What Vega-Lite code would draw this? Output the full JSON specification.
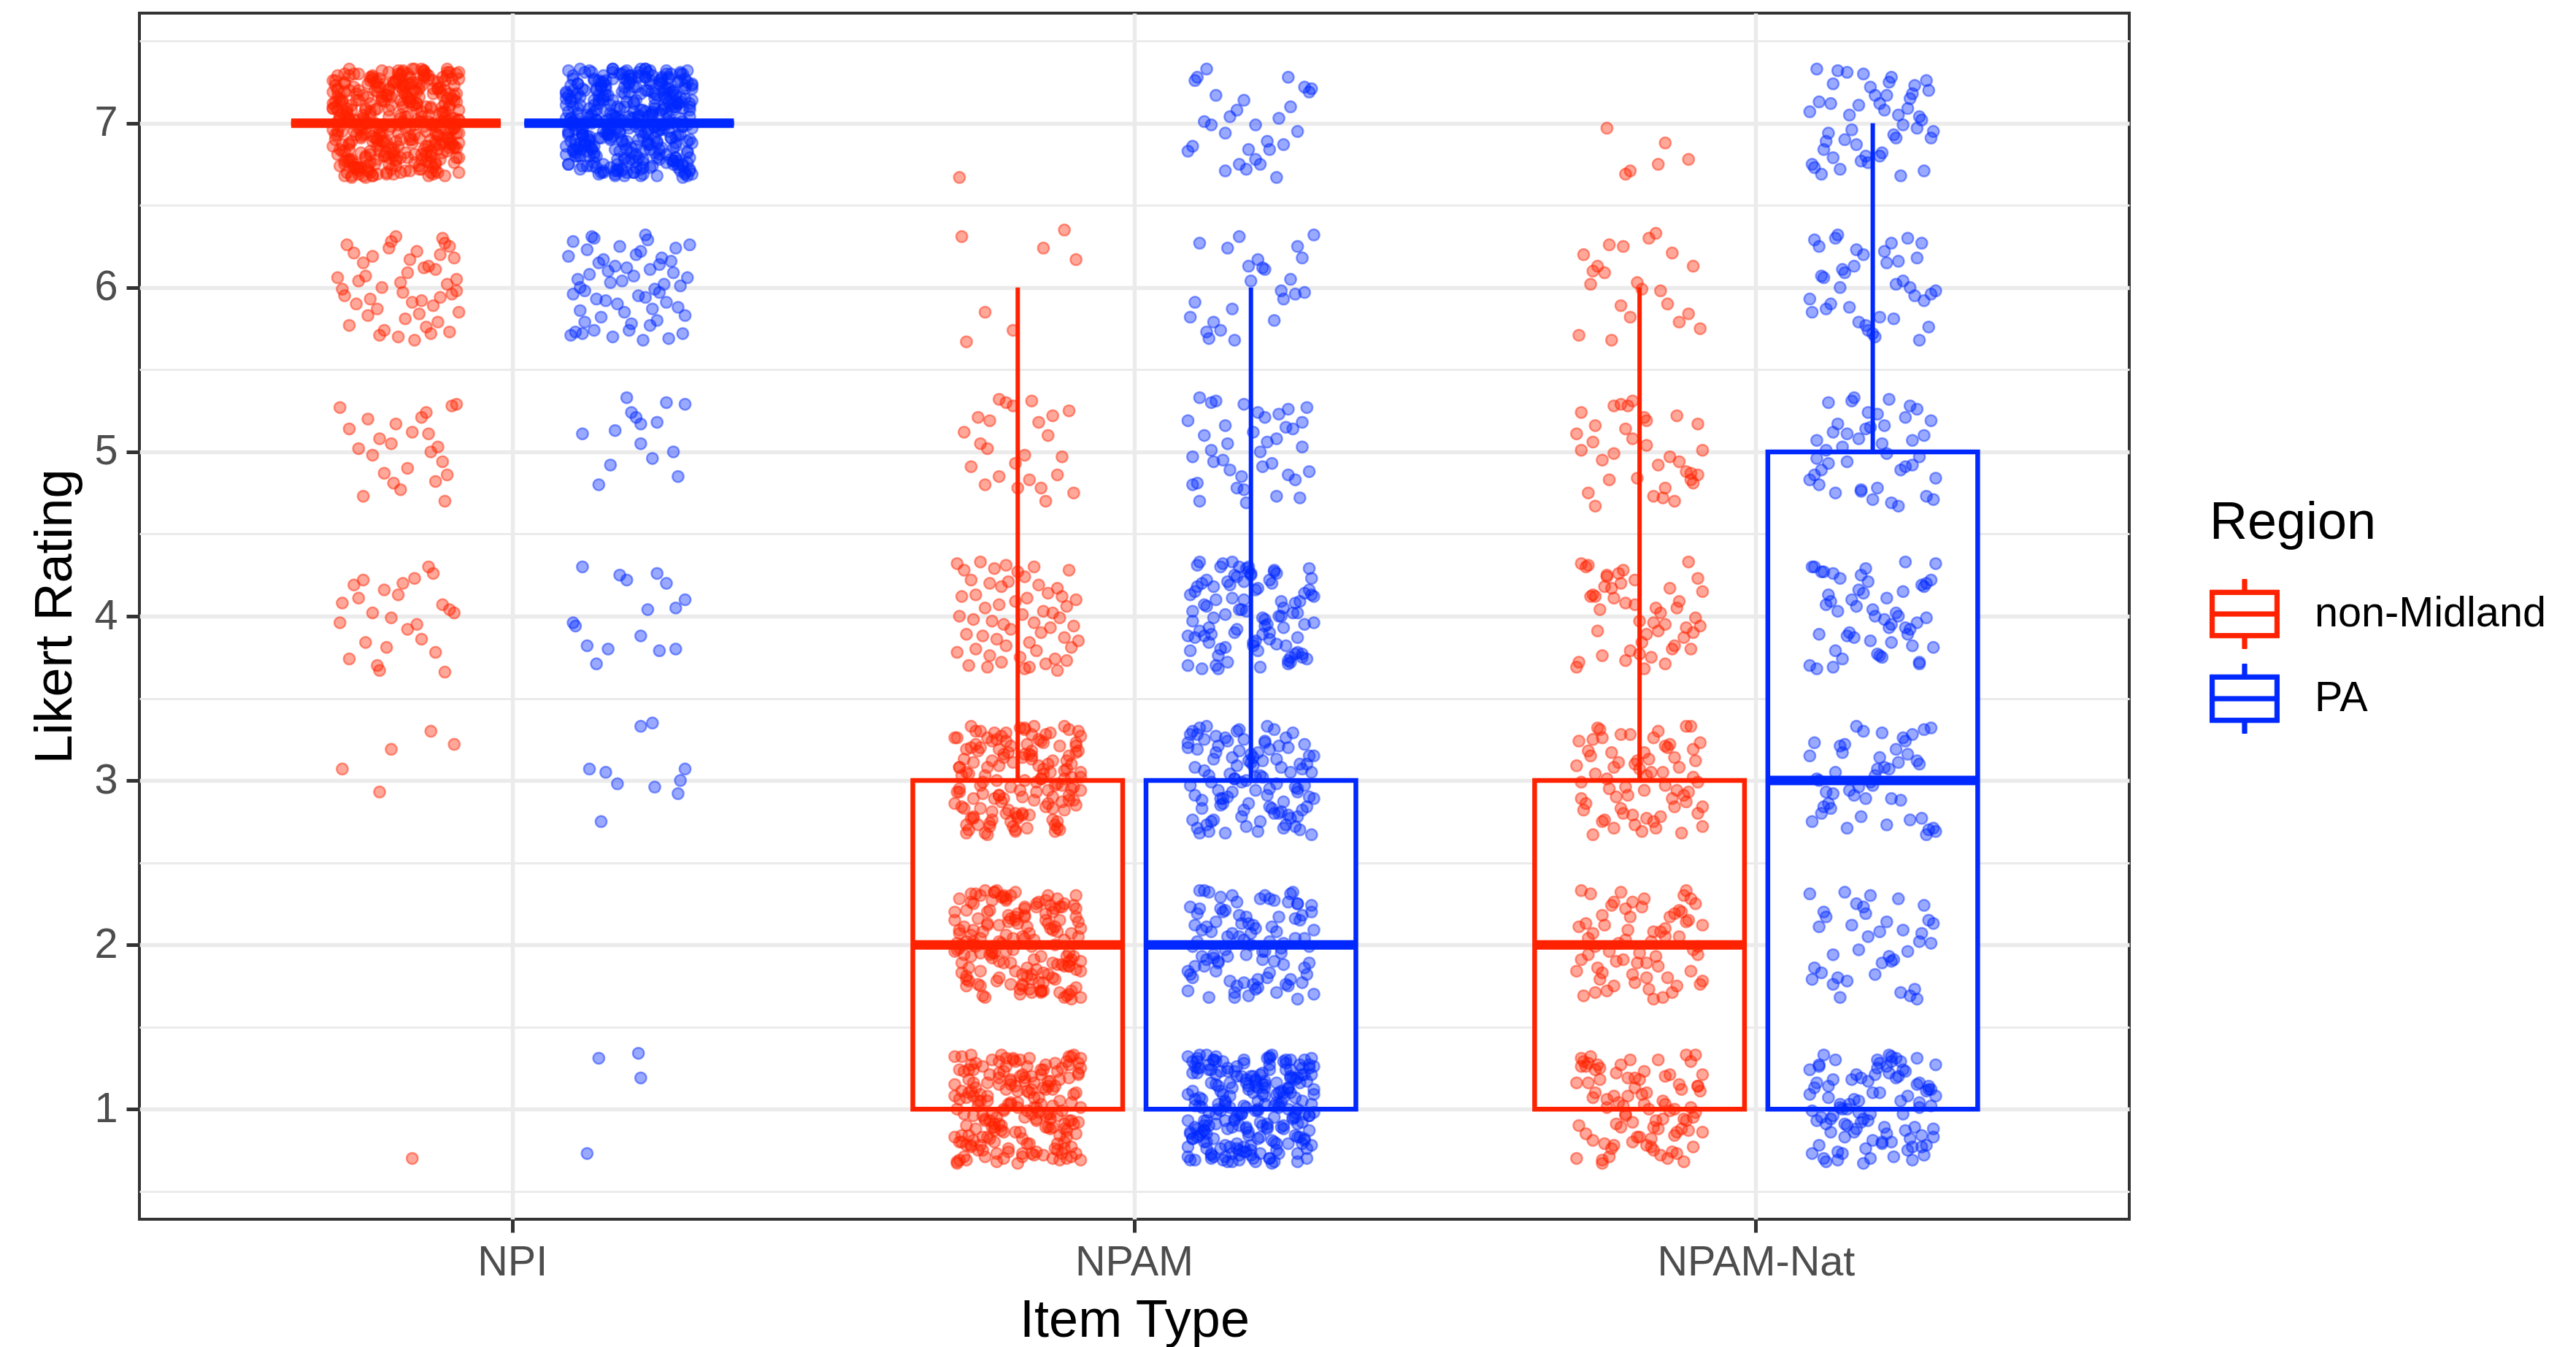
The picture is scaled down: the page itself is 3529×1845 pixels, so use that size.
{
  "$schema": "https://vega.github.io/schema/vega-lite/v6.json",
  "width": 2726,
  "height": 1652,
  "autosize": {"type": "none"},
  "padding": {"left": 191, "top": 18, "right": 612, "bottom": 175},
  "background": "white",
  "datasets": {
    "boxes": [
      {"item": "NPI", "region": "non-Midland", "lo": 7, "q1": 7, "med": 7, "q3": 7, "hi": 7},
      {"item": "NPI", "region": "PA", "lo": 7, "q1": 7, "med": 7, "q3": 7, "hi": 7},
      {"item": "NPAM", "region": "non-Midland", "lo": 1, "q1": 1, "med": 2, "q3": 3, "hi": 6},
      {"item": "NPAM", "region": "PA", "lo": 1, "q1": 1, "med": 2, "q3": 3, "hi": 6},
      {"item": "NPAM-Nat", "region": "non-Midland", "lo": 1, "q1": 1, "med": 2, "q3": 3, "hi": 6},
      {"item": "NPAM-Nat", "region": "PA", "lo": 1, "q1": 1, "med": 3, "q3": 5, "hi": 7}
    ],
    "points": [
      {"item": "NPI", "region": "non-Midland", "rating": 7, "p": [[-61,7.12],[-34,6.73],[-72,7.05],[-47,7.31],[-28,6.91],[-55,6.80],[-40,7.24],[-66,6.97],[-25,7.17],[-51,6.69],[-75,7.08],[-37,6.86],[-44,7.28],[-69,6.78],[-30,7.01],[-58,7.19],[-23,6.94],[-63,6.67],[-48,7.14],[-35,6.83],[-77,7.26],[-42,6.99],[-53,6.75],[-27,7.10],[-70,7.33],[-60,6.89],[-32,7.21],[-46,6.71],[-74,7.03],[-38,6.84],[-56,7.16],[-24,7.30],[-65,6.92],[-50,6.77],[-29,7.07],[-68,7.22],[-43,6.88],[-59,7.00],[-36,7.29],[-71,6.70],[-26,6.96],[-52,7.11],[-45,6.79],[-67,7.18],[-31,6.87],[-57,7.27],[-76,6.93],[-39,7.04],[-62,6.74],[-49,7.32],[-33,6.98],[-73,7.13],[-54,6.82],[-41,7.25],[-64,6.68],[-27,7.02],[-48,6.90],[-70,7.20],[-35,6.76],[-58,7.09],[-44,7.15],[-25,6.85],[-66,7.30],[-52,6.72],[-30,7.06],[-75,6.95],[-39,7.23],[-61,6.81],[-47,7.00],[-23,7.27],[-69,6.89],[-56,7.14],[-34,6.69],[-72,7.19],[-42,6.93],[-28,7.31],[-64,7.03],[-50,6.78],[-37,7.10],[-77,6.86],[-55,7.24],[-31,6.97],[-67,6.73],[-45,7.16],[-26,6.88],[-60,7.29],[-40,7.01],[-73,6.83],[-53,7.21],[-32,6.70],[-63,7.08],[-49,6.94],[-24,7.18],[-70,6.77],[-43,7.33],[-58,6.91],[-36,7.05],[-76,7.26],[-51,6.80],[-29,7.12],[-65,6.99],[-46,7.22],[-33,6.75],[-71,7.04],[-57,6.87],[-38,7.28],[-62,6.72],[-27,6.95],[-54,7.17],[-74,6.84],[-41,7.09],[-68,7.30],[-48,6.79],[-23,7.02],[-59,7.25],[-35,6.90],[-72,6.68],[-44,7.13],[-30,6.82],[-66,7.20],[-53,6.96],[-25,7.23],[-61,6.76],[-39,7.07],[-75,6.93],[-47,7.32],[-33,6.71],[-69,7.11],[-56,6.89],[-28,7.15],[-64,7.01],[-42,6.81],[-77,7.19],[-50,6.74],[-36,7.27],[-60,6.92],[-24,6.85],[-71,7.06],[-45,7.24],[-31,6.78],[-67,7.14],[-52,6.98],[-38,7.31],[-73,6.87],[-26,7.03],[-58,6.69],[-43,7.18],[-63,6.94],[-29,7.26],[-55,6.80],[-76,7.10],[-40,6.91],[-48,7.22],[-65,6.73],[-34,7.00],[-70,7.29],[-57,6.83],[-23,7.08],[-46,6.97],[-62,7.16],[-37,6.77],[-74,7.05],[-51,7.25],[-27,6.88],[-68,6.95],[-41,7.12],[-54,6.70],[-32,7.21],[-66,7.02],[-49,6.86],[-72,7.30],[-35,6.99],[-59,6.75],[-25,7.14],[-44,6.90],[-61,7.07],[-30,7.28],[-75,6.81],[-53,7.04],[-39,6.72],[-64,7.17],[-28,6.96],[-47,7.23],[-70,6.84],[-36,7.01],[-56,7.32],[-23,6.79],[-67,6.93],[-43,7.11],[-60,6.68],[-31,7.19],[-73,7.06],[-50,6.89],[-26,7.27],[-58,6.97],[-40,6.74],[-77,7.09],[-45,7.15],[-33,6.87],[-62,7.24],[-52,6.82],[-69,7.00],[-38,7.29],[-24,6.94],[-55,7.13],[-71,6.77],[-42,7.20],[-29,7.03],[-65,6.91],[-48,6.70],[-34,7.26],[-74,6.98],[-59,7.08],[-27,6.85],[-46,7.18],[-68,6.73],[-37,6.95],[-53,7.31],[-63,6.80],[-30,7.10],[-76,6.90],[-41,7.02],[-57,7.22],[-25,6.76],[-49,6.99],[-66,7.14],[-35,6.83],[-72,7.25],[-44,6.71],[-61,7.05],[-32,6.92],[-54,7.17],[-70,6.88],[-39,7.33],[-26,7.00],[-58,6.78],[-47,7.12],[-75,7.21],[-36,6.86],[-63,6.97]]},
      {"item": "NPI", "region": "non-Midland", "rating": 7, "p": [[-61,7.26],[-34,6.99],[-72,6.75],[-47,7.10],[-28,7.33],[-55,6.89],[-40,7.21],[-66,6.71],[-25,7.03],[-51,6.84],[-75,7.16],[-37,7.30],[-44,6.92],[-69,6.77],[-30,7.07],[-58,7.22],[-23,6.88],[-63,7.00],[-48,7.29],[-35,6.70],[-77,6.96],[-42,7.11],[-53,6.79],[-27,7.18],[-70,6.87],[-60,7.27],[-32,6.93],[-46,7.04],[-74,6.74],[-38,7.32],[-56,6.98],[-24,7.13],[-65,6.82],[-50,7.25],[-29,6.68],[-68,7.02],[-43,6.90],[-59,7.20],[-36,6.76],[-71,7.09],[-26,7.15],[-52,6.85],[-45,7.30],[-67,6.72],[-31,7.06],[-57,6.95],[-76,7.23],[-39,6.81],[-62,7.00],[-49,7.27],[-33,6.89],[-73,7.14],[-54,6.69],[-41,7.19],[-64,6.93],[-27,7.31],[-48,7.03],[-70,6.78],[-35,7.10],[-58,6.86],[-44,7.24],[-25,6.97],[-66,6.73],[-52,7.16],[-30,6.88],[-75,7.29],[-39,7.01],[-61,6.83],[-47,7.21],[-23,6.70],[-69,7.08],[-56,6.94],[-34,7.18],[-72,6.77],[-42,7.33],[-28,6.91],[-64,7.05],[-50,7.26],[-37,6.80],[-77,7.12],[-55,6.99],[-31,7.22],[-67,6.75],[-45,7.04],[-26,6.87],[-60,7.28],[-40,6.72],[-73,6.95],[-53,7.17],[-32,6.84],[-63,7.09],[-49,7.30],[-24,6.79],[-70,7.02],[-43,7.25],[-58,6.90],[-36,6.68],[-76,7.13],[-51,6.82],[-29,7.20],[-65,6.96],[-46,7.23],[-33,6.76],[-71,7.07],[-57,6.93],[-38,7.32],[-62,6.71],[-27,7.11],[-54,6.89],[-74,7.15],[-41,7.12],[-68,6.73],[-48,7.05],[-23,7.31],[-59,6.91],[-35,6.80],[-72,7.24],[-44,6.97],[-30,7.17],[-66,6.69],[-53,7.08],[-25,6.86],[-61,7.28],[-39,6.78],[-75,7.01],[-47,7.19],[-33,6.94],[-69,6.67],[-56,7.14],[-28,6.83],[-51,7.24],[-25,6.97],[-66,6.73],[-40,7.16],[-55,6.88],[-28,7.29],[-47,7.01],[-72,6.83],[-34,7.21],[-61,6.70],[-35,7.09],[-48,7.30],[-63,6.79],[-23,7.02],[-58,7.25],[-30,6.90],[-69,6.68],[-44,7.13],[-37,6.82],[-75,7.20],[-38,6.98],[-74,7.13],[-46,6.82],[-32,7.25],[-60,6.68],[-70,7.02],[-27,6.90],[-53,7.20],[-42,6.76],[-77,7.09]]},
      {"item": "NPI", "region": "non-Midland", "rating": 6, "p": [[-52,6.28],[-68,6.21],[-30,6.30],[-27,6.25],[-25,6.18],[-41,6.22],[-60,6.19],[-36,6.13],[-45,6.09],[-63,6.07],[-33,6.11],[-38,6.12],[-28,6.02],[-56,6.00],[-73,5.99],[-72,5.95],[-47,5.97],[-24,5.98],[-31,5.94],[-26,5.96],[-43,5.91],[-34,5.89],[-23,5.85],[-62,5.83],[-70,5.77],[-55,5.74],[-32,5.79],[-35,5.72],[-49,5.70],[-42,5.68],[-27,5.73],[-50,6.31],[-29,6.27],[-66,6.04],[-58,5.87],[-39,5.92],[-64,6.15],[-46,5.81],[-75,6.06],[-53,6.24],[-37,5.76],[-67,5.90],[-44,6.17],[-24,6.05],[-57,5.71],[-71,6.26],[-40,5.84],[-61,5.93],[-48,6.03],[-31,6.20]]},
      {"item": "NPI", "region": "non-Midland", "rating": 5, "p": [[-74,5.27],[-62,5.20],[-50,5.17],[-43,5.12],[-39,5.21],[-36,5.11],[-32,5.03],[-30,4.94],[-28,4.86],[-33,4.82],[-52,5.05],[-57,5.08],[-60,4.98],[-51,4.81],[-64,4.73],[-29,4.70],[-26,5.28],[-24,5.29],[-37,5.24],[-45,4.90],[-70,5.14],[-48,4.77],[-35,5.00],[-55,4.87],[-66,5.02]]},
      {"item": "NPI", "region": "non-Midland", "rating": 4, "p": [[-68,4.19],[-64,4.22],[-55,4.16],[-47,4.20],[-42,4.23],[-36,4.30],[-66,4.11],[-74,3.96],[-60,4.02],[-52,3.99],[-30,4.07],[-27,4.04],[-25,4.02],[-45,3.92],[-39,3.86],[-63,3.84],[-58,3.70],[-57,3.67],[-33,3.78],[-29,3.66],[-73,4.08],[-49,4.13],[-70,3.74],[-41,3.95],[-34,4.26],[-54,3.81]]},
      {"item": "NPI", "region": "non-Midland", "rating": 3, "p": [[-73,3.07],[-57,2.93],[-52,3.19],[-35,3.30],[-25,3.22]]},
      {"item": "NPI", "region": "non-Midland", "rating": 1, "p": [[-43,0.70]]},
      {"item": "NPI", "region": "PA", "rating": 7, "p": [[58,6.88],[31,7.20],[73,6.75],[45,7.04],[26,7.29],[64,6.96],[39,6.70],[52,7.13],[77,7.23],[34,6.84],[61,7.09],[24,6.93],[48,7.31],[70,6.79],[36,7.02],[55,6.68],[29,7.16],[67,7.27],[42,6.90],[75,6.99],[50,7.19],[27,6.82],[63,7.06],[38,7.25],[71,6.73],[46,6.94],[23,7.11],[59,7.32],[33,6.86],[68,7.00],[53,6.77],[40,7.21],[76,7.08],[30,6.97],[57,7.28],[44,6.71],[66,7.15],[25,7.03],[49,6.89],[72,7.26],[35,6.80],[62,6.95],[41,7.17],[74,6.69],[28,7.24],[54,7.05],[69,6.85],[37,7.12],[60,6.74],[47,7.30],[32,6.92],[65,7.20],[51,6.78],[24,7.07],[73,6.98],[43,7.33],[56,6.83],[39,7.01],[77,7.14],[29,6.72],[61,6.91],[48,7.22],[35,6.76],[70,7.10],[26,7.27],[58,6.87],[45,6.97],[67,7.18],[33,7.04],[52,6.70],[75,7.25],[41,6.93],[64,7.08],[23,6.81],[50,7.29],[71,6.75],[38,7.15],[55,6.99],[30,7.21],[63,6.84],[46,7.02],[76,6.90],[34,7.31],[59,6.73],[42,7.11],[68,7.19],[27,6.96],[53,6.86],[72,7.03],[37,7.26],[62,6.79],[49,7.13],[25,6.89],[66,7.06],[44,6.68],[74,7.23],[31,7.00],[57,6.94],[40,7.17],[69,6.77],[54,7.28],[28,6.85],[65,7.09],[47,6.71],[36,7.20],[73,6.98],[60,7.05],[24,7.32],[51,6.82],[70,6.92],[39,7.14],[63,7.24],[32,6.74],[56,7.01],[77,6.88],[43,7.27],[67,6.95],[26,7.10],[48,6.78],[61,7.18],[35,7.07],[75,6.83],[53,7.22],[29,6.97],[68,7.30],[45,6.72],[58,7.04],[38,6.91],[72,7.16],[23,6.86],[64,6.99],[50,7.25],[33,6.80],[76,7.12],[41,6.94],[55,7.33],[27,7.02],[69,6.75],[47,7.19],[62,6.89],[36,7.08],[74,7.27],[52,6.70],[30,6.96],[66,7.21],[44,7.03],[59,6.84],[25,7.15],[71,6.93],[39,7.29],[56,6.78],[34,7.00],[65,7.11],[48,6.87],[77,6.97],[28,7.24],[60,7.06],[42,6.73],[70,7.17],[54,6.90],[31,7.31],[63,6.81],[46,7.09],[73,7.01],[37,6.69],[57,7.20],[24,6.95],[67,7.13],[51,6.85],[40,7.26],[75,6.76],[32,7.05],[61,6.98],[49,7.32],[26,6.83],[68,7.08],[43,6.92],[55,7.18],[72,6.71],[35,7.14],[64,7.28],[29,6.88],[53,7.00],[76,6.79],[38,7.23],[58,6.94],[45,7.10],[23,7.19],[70,6.86],[50,7.04],[34,6.74],[66,7.30],[41,6.97],[74,7.15],[27,6.80],[60,7.07],[47,6.90],[71,7.25],[36,7.02],[62,6.68],[52,7.12],[30,6.93],[77,7.21],[44,6.84],[57,7.33],[25,7.03],[69,6.77],[39,7.16],[65,6.99],[48,7.27],[33,6.89],[73,7.09],[55,6.72],[28,7.18],[63,6.96],[42,7.06],[75,6.82],[51,7.29],[37,6.91],[67,7.01],[24,6.75],[59,7.24],[46,6.95],[72,7.13],[31,6.87],[54,7.31],[68,6.78],[40,7.08],[61,6.98],[26,7.20],[49,6.70],[76,7.04],[35,7.26],[64,6.85],[43,7.14],[56,6.92],[29,7.11],[70,7.00],[53,6.81],[38,7.22]]},
      {"item": "NPI", "region": "PA", "rating": 7, "p": [[61,7.15],[34,6.85],[72,7.30],[47,6.72],[28,7.06],[55,6.95],[40,7.23],[66,6.81],[25,7.00],[51,7.27],[75,6.89],[37,7.14],[44,6.69],[69,7.19],[30,6.93],[58,7.31],[23,7.03],[63,6.78],[48,7.10],[35,6.86],[77,7.24],[42,6.97],[53,6.73],[27,7.16],[70,6.88],[60,7.29],[32,7.01],[46,6.83],[74,7.21],[38,6.70],[56,7.08],[24,6.94],[65,7.18],[50,6.77],[29,7.33],[68,6.91],[43,7.05],[59,7.26],[36,6.80],[71,7.12],[26,6.99],[52,7.22],[45,6.75],[67,7.04],[31,6.87],[57,7.28],[76,6.72],[39,6.95],[62,7.17],[49,6.84],[33,7.09],[73,7.30],[54,6.79],[41,7.02],[64,7.25],[27,6.90],[48,6.68],[70,7.13],[35,6.82],[58,7.20],[44,6.96],[25,7.23],[66,6.76],[52,7.07],[30,6.93],[75,7.32],[39,6.71],[61,7.11],[47,6.89],[23,7.15],[69,7.12],[56,6.73],[34,7.05],[72,7.31],[42,6.91],[28,6.80],[64,7.24],[50,6.97],[37,7.17],[77,6.69],[55,7.08],[31,6.86],[67,7.28],[45,6.78],[26,7.01],[60,7.19],[40,6.94],[73,6.67],[53,7.14],[32,6.83],[63,7.26],[49,6.99],[24,6.75],[70,7.10],[43,7.33],[58,6.89],[36,7.21],[76,6.71],[51,7.03],[29,6.84],[65,7.16],[46,7.30],[33,6.92],[71,6.77],[57,7.07],[38,7.22],[62,6.88],[27,7.00],[54,7.29],[74,6.70],[41,6.96],[68,7.11],[48,6.79],[23,7.18],[59,6.87],[35,7.27],[72,6.93],[44,7.04],[30,6.74],[66,7.32],[53,6.98],[25,7.13],[61,6.82],[39,7.25],[75,6.68],[47,7.02],[33,6.90],[69,7.20],[56,6.76],[28,7.09],[71,7.12],[36,6.73],[59,7.05],[43,7.31],[68,6.91],[29,6.80],[50,7.24],[65,6.97],[24,7.17],[56,6.69],[49,7.26],[62,6.99],[39,6.75],[76,7.10],[57,7.33],[31,6.89],[67,7.21],[45,6.71],[52,7.03],[26,6.84],[58,6.96],[35,7.11],[70,6.79],[48,7.18],[27,6.87],[64,7.27],[41,6.93],[54,7.04],[73,6.74],[33,7.32]]},
      {"item": "NPI", "region": "PA", "rating": 6, "p": [[26,6.28],[34,6.31],[57,6.32],[58,6.29],[70,6.24],[55,6.22],[64,6.18],[37,6.15],[44,6.13],[41,6.10],[49,6.12],[33,6.08],[28,6.05],[65,6.02],[52,6.07],[29,6.00],[26,5.96],[31,5.98],[47,6.04],[59,6.11],[68,6.16],[72,6.01],[75,6.06],[39,6.17],[53,6.20],[61,5.99],[36,5.93],[45,5.90],[57,5.94],[63,5.97],[71,5.88],[29,5.86],[31,5.79],[35,5.74],[50,5.74],[59,5.77],[62,5.80],[74,5.83],[73,5.72],[67,5.69],[25,5.71],[27,5.73],[30,5.72],[43,5.70],[56,5.68],[48,5.85],[40,5.92],[66,5.91],[24,6.19],[76,6.26],[46,6.25],[38,5.82],[54,5.95],[69,6.09],[32,6.23],[60,5.87],[42,6.03],[51,5.78],[63,6.14],[35,6.30]]},
      {"item": "NPI", "region": "PA", "rating": 5, "p": [[30,5.11],[44,5.13],[53,5.21],[55,5.17],[62,5.18],[66,5.30],[74,5.29],[51,5.24],[55,5.05],[69,5.00],[42,4.92],[60,4.96],[71,4.85],[49,5.33],[37,4.80]]},
      {"item": "NPI", "region": "PA", "rating": 4, "p": [[30,4.30],[46,4.25],[49,4.22],[62,4.26],[66,4.20],[74,4.10],[70,4.05],[58,4.04],[26,3.96],[27,3.94],[32,3.82],[41,3.80],[63,3.79],[70,3.80],[36,3.71],[55,3.88]]},
      {"item": "NPI", "region": "PA", "rating": 3, "p": [[33,3.07],[45,2.98],[38,2.75],[55,3.33],[60,3.35],[74,3.07],[72,3.00],[61,2.96],[71,2.92],[40,3.05]]},
      {"item": "NPI", "region": "PA", "rating": 1, "p": [[32,0.73],[37,1.31],[54,1.34],[55,1.19]]},
      {"item": "NPAM", "region": "non-Midland", "rating": 7, "p": [[-75,6.67]]},
      {"item": "NPAM", "region": "non-Midland", "rating": 6, "p": [[-74,6.31],[-39,6.24],[-30,6.35],[-25,6.17],[-64,5.85],[-52,5.74],[-72,5.67]]},
      {"item": "NPAM", "region": "non-Midland", "rating": 5, "p": [[-58,5.32],[-55,5.30],[-52,5.28],[-44,5.31],[-67,5.21],[-62,5.19],[-73,5.12],[-35,5.22],[-41,5.18],[-28,5.25],[-66,5.05],[-63,5.02],[-47,4.98],[-51,4.93],[-37,5.10],[-31,4.97],[-58,4.85],[-64,4.80],[-45,4.83],[-50,4.78],[-40,4.78],[-38,4.70],[-33,4.86],[-26,4.75],[-70,4.91]]},
      {"item": "NPAM", "region": "non-Midland", "rating": 4, "p": [[-76,4.32],[-73,4.28],[-66,4.33],[-60,4.29],[-55,4.31],[-50,4.27],[-47,4.24],[-43,4.30],[-28,4.28],[-70,4.22],[-62,4.20],[-57,4.18],[-54,4.21],[-41,4.19],[-37,4.14],[-33,4.17],[-31,4.12],[-74,4.12],[-68,4.13],[-64,4.05],[-58,4.07],[-51,4.09],[-46,4.11],[-39,4.03],[-35,4.02],[-29,4.06],[-25,4.10],[-75,4.00],[-69,3.98],[-61,3.97],[-56,3.95],[-48,4.01],[-43,3.96],[-36,3.93],[-32,3.99],[-26,3.94],[-72,3.89],[-65,3.88],[-59,3.86],[-53,3.92],[-45,3.84],[-40,3.90],[-30,3.87],[-24,3.85],[-76,3.78],[-68,3.80],[-62,3.76],[-55,3.82],[-49,3.75],[-42,3.79],[-34,3.74],[-27,3.81],[-71,3.70],[-63,3.69],[-57,3.72],[-47,3.68],[-38,3.71],[-33,3.67],[-45,3.69],[-29,3.73]]},
      {"item": "NPAM", "region": "non-Midland", "rating": 3, "p": [[-61,3.12],[-34,2.73],[-72,3.05],[-47,3.31],[-28,2.91],[-55,2.80],[-40,3.24],[-66,2.97],[-25,3.17],[-51,2.69],[-75,3.08],[-37,2.86],[-44,3.28],[-69,2.78],[-30,3.01],[-58,3.19],[-23,2.94],[-63,2.67],[-48,3.14],[-35,2.83],[-77,3.26],[-42,2.99],[-53,2.75],[-27,3.10],[-70,3.33],[-60,2.89],[-32,3.21],[-46,2.71],[-74,3.03],[-38,2.84],[-56,3.16],[-24,3.30],[-65,2.92],[-50,2.77],[-29,3.07],[-68,3.22],[-43,2.88],[-59,3.00],[-36,3.29],[-71,2.70],[-26,2.96],[-52,3.11],[-45,2.79],[-67,3.18],[-31,2.87],[-57,3.27],[-76,2.93],[-39,3.04],[-62,2.74],[-49,3.32],[-33,2.98],[-73,3.13],[-54,2.82],[-41,3.25],[-64,2.68],[-27,3.02],[-48,2.90],[-70,3.20],[-35,2.76],[-58,3.09],[-44,3.15],[-25,2.85],[-66,3.30],[-52,2.72],[-30,3.06],[-75,2.95],[-39,3.23],[-61,2.81],[-47,3.00],[-23,3.27],[-69,2.89],[-56,3.14],[-34,2.69],[-72,3.19],[-42,2.93],[-28,3.31],[-64,3.03],[-50,2.78],[-37,3.10],[-77,2.86],[-55,3.24],[-31,2.97],[-67,2.73],[-45,3.16],[-26,2.88],[-60,3.29],[-40,3.01],[-73,2.83],[-53,3.21],[-32,2.70],[-63,3.08],[-49,2.94],[-24,3.18],[-70,2.77],[-43,3.33],[-58,2.91],[-36,3.05],[-76,3.26],[-51,2.80],[-29,3.12],[-65,2.99],[-46,3.22],[-33,2.75],[-71,3.04],[-57,2.87],[-38,3.28],[-62,2.72],[-27,2.95],[-54,3.17],[-74,2.84],[-41,3.09],[-68,3.30],[-48,2.79],[-23,3.02],[-59,3.25],[-35,2.90],[-72,2.68],[-44,3.13],[-30,2.82],[-66,3.20],[-53,2.96],[-25,3.23],[-61,2.76],[-39,3.07],[-75,2.93],[-47,3.32],[-33,2.71],[-69,3.11],[-56,2.89],[-28,3.15],[-61,3.24],[-34,2.97],[-72,2.73],[-47,3.16],[-28,2.88],[-55,3.29],[-40,3.01],[-66,2.83],[-25,3.21],[-51,2.70],[-75,3.08],[-37,2.94],[-44,3.18],[-69,2.77],[-30,3.33],[-58,2.91],[-23,3.05],[-63,3.26],[-48,2.80],[-35,3.12]]},
      {"item": "NPAM", "region": "non-Midland", "rating": 2, "p": [[-61,1.96],[-34,2.11],[-72,1.79],[-47,2.18],[-28,1.87],[-55,2.27],[-40,1.93],[-66,2.04],[-25,1.74],[-51,2.32],[-75,1.98],[-37,2.13],[-44,1.82],[-69,2.25],[-30,1.68],[-58,2.02],[-23,1.90],[-63,2.20],[-48,1.76],[-35,2.09],[-77,2.15],[-42,1.85],[-53,2.30],[-27,1.72],[-70,2.06],[-60,1.95],[-32,2.23],[-46,1.81],[-74,2.00],[-38,2.27],[-56,1.89],[-24,2.14],[-65,1.69],[-50,2.19],[-29,1.93],[-68,2.31],[-43,2.03],[-59,1.78],[-36,2.10],[-71,1.86],[-26,2.24],[-52,1.97],[-45,1.73],[-67,2.16],[-31,1.88],[-57,2.29],[-76,2.01],[-39,1.83],[-62,2.21],[-49,1.70],[-33,2.08],[-73,1.94],[-54,2.18],[-41,1.77],[-64,2.33],[-27,1.91],[-48,2.05],[-70,2.26],[-35,1.80],[-58,2.12],[-44,1.99],[-25,2.22],[-66,1.75],[-52,2.04],[-30,1.87],[-75,2.28],[-39,1.72],[-61,1.95],[-47,2.17],[-23,1.84],[-69,2.09],[-56,2.30],[-34,1.79],[-72,2.02],[-42,2.25],[-28,1.90],[-64,1.68],[-50,2.13],[-37,1.82],[-77,2.20],[-55,1.96],[-31,2.23],[-67,1.76],[-45,2.07],[-26,1.93],[-60,2.32],[-40,1.71],[-73,2.11],[-53,1.89],[-32,2.15],[-63,2.12],[-49,1.73],[-24,2.05],[-70,2.31],[-43,1.91],[-58,1.80],[-36,2.24],[-76,1.97],[-51,2.17],[-29,1.69],[-65,2.08],[-46,1.86],[-33,2.28],[-71,1.78],[-57,2.01],[-38,2.19],[-62,1.94],[-27,1.67],[-54,2.14],[-74,1.83],[-41,2.26],[-68,1.99],[-48,1.75],[-23,2.10],[-59,2.33],[-35,1.89],[-72,2.21],[-44,1.71],[-30,2.03],[-66,1.84],[-53,2.16],[-25,2.30],[-61,1.92],[-39,1.77],[-75,2.07],[-47,2.22],[-33,1.88],[-69,2.00],[-56,2.29],[-28,1.70],[-51,2.15],[-25,1.85],[-66,2.30],[-40,1.72],[-55,2.06],[-28,1.95],[-47,2.23],[-72,1.81],[-34,2.00],[-61,2.27],[-61,1.99],[-34,2.22],[-72,1.75],[-47,2.04],[-28,1.87],[-55,2.28],[-40,1.72],[-66,1.95],[-25,2.17],[-51,1.84],[-75,2.09],[-37,2.30],[-44,1.79],[-69,2.02],[-30,2.25],[-58,1.90],[-23,1.68],[-63,2.13],[-48,1.82],[-35,2.20],[-77,1.96],[-42,2.23],[-53,1.76],[-27,2.07],[-70,1.93],[-60,2.32],[-32,1.71],[-46,2.11],[-74,1.89],[-38,2.15]]},
      {"item": "NPAM", "region": "non-Midland", "rating": 1, "p": [[-61,0.89],[-34,1.14],[-72,0.69],[-47,1.19],[-28,0.93],[-55,1.31],[-40,1.03],[-66,0.78],[-25,1.10],[-51,0.86],[-75,1.24],[-37,0.97],[-44,0.73],[-69,1.16],[-30,0.88],[-58,1.29],[-23,1.01],[-63,0.83],[-48,1.21],[-35,0.70],[-77,1.08],[-42,0.94],[-53,1.18],[-27,0.77],[-70,1.33],[-60,0.91],[-32,1.05],[-46,1.26],[-74,0.80],[-38,1.12],[-56,0.99],[-24,1.22],[-65,0.75],[-50,1.04],[-29,0.87],[-68,1.28],[-43,0.72],[-59,0.95],[-36,1.17],[-71,0.84],[-26,1.09],[-52,1.30],[-45,0.79],[-67,1.02],[-31,1.25],[-57,0.90],[-76,0.68],[-39,1.13],[-62,0.82],[-49,1.20],[-33,0.96],[-73,1.23],[-54,0.76],[-41,1.07],[-64,0.93],[-27,1.32],[-48,0.71],[-70,1.11],[-35,0.89],[-58,1.15],[-44,1.12],[-25,0.73],[-66,1.05],[-52,1.31],[-30,0.91],[-75,0.80],[-39,1.24],[-61,0.97],[-47,1.17],[-23,0.69],[-69,1.08],[-56,0.86],[-34,1.28],[-72,0.78],[-42,1.01],[-28,1.19],[-64,0.94],[-50,0.67],[-37,1.14],[-77,0.83],[-55,1.26],[-31,0.99],[-67,0.75],[-45,1.10],[-26,1.33],[-60,0.89],[-40,1.21],[-73,0.71],[-53,1.03],[-32,0.84],[-63,1.16],[-49,1.30],[-24,0.92],[-70,0.77],[-43,1.07],[-58,1.22],[-36,0.88],[-76,1.00],[-51,1.29],[-29,0.70],[-65,0.96],[-46,1.11],[-33,0.79],[-71,1.18],[-57,0.87],[-38,1.27],[-62,0.93],[-27,1.04],[-54,0.74],[-74,1.32],[-41,0.98],[-68,1.13],[-48,0.82],[-23,1.25],[-59,0.68],[-35,1.02],[-72,0.90],[-44,1.20],[-30,0.76],[-66,1.09],[-53,1.15],[-25,0.85],[-61,1.30],[-39,0.72],[-75,1.06],[-47,0.95],[-33,1.23],[-69,0.81],[-56,1.00],[-28,1.27],[-35,1.12],[-48,0.73],[-63,1.05],[-23,1.31],[-58,0.91],[-30,0.80],[-69,1.24],[-44,0.97],[-37,1.17],[-75,0.69],[-38,0.96],[-74,1.11],[-46,0.79],[-32,1.18],[-60,0.87],[-70,1.27],[-27,0.93],[-53,1.04],[-42,0.74],[-77,1.32],[-71,1.24],[-36,0.97],[-59,0.73],[-43,1.16],[-68,0.88],[-29,1.29],[-50,1.01],[-65,0.83],[-24,1.21],[-56,0.70],[-69,0.96],[-56,1.23],[-34,0.76],[-72,1.07],[-42,0.93],[-28,1.32],[-64,0.71],[-50,1.11],[-37,0.89],[-77,1.15],[-55,1.12],[-31,0.73],[-67,1.05],[-45,1.31],[-26,0.91],[-60,0.80],[-40,1.24],[-73,0.97],[-53,1.17],[-32,0.69],[-63,1.08],[-49,0.86],[-24,1.28],[-70,0.78],[-43,1.01],[-58,1.19],[-36,0.94],[-76,0.67],[-51,1.14],[-29,0.83],[-65,1.26],[-46,0.99],[-33,0.75],[-71,1.10],[-57,1.33],[-38,0.89],[-62,1.21],[-27,0.71],[-54,1.03],[-74,0.84]]},
      {"item": "NPAM", "region": "PA", "rating": 7, "p": [[26,7.26],[52,6.99],[45,6.75],[67,7.10],[31,7.33],[57,6.89],[76,7.21],[39,6.71],[62,7.03],[49,6.84],[33,6.99],[73,7.22],[54,6.75],[41,7.04],[64,6.87],[27,7.28],[48,6.72],[70,6.95],[35,7.17],[58,6.84],[44,7.08],[25,6.86],[66,7.28],[52,6.78],[30,7.01],[75,7.19],[39,6.94],[61,6.67],[47,7.14],[23,6.83]]},
      {"item": "NPAM", "region": "PA", "rating": 6, "p": [[69,5.96],[56,6.11],[34,5.79],[72,6.18],[42,5.87],[28,6.27],[64,5.93],[50,6.04],[37,5.74],[77,6.32],[55,6.12],[31,5.73],[67,6.05],[45,6.31],[26,5.91],[60,5.80],[40,6.24],[73,5.97],[53,6.17],[32,5.69],[63,5.98],[49,6.13],[24,5.82],[70,6.25],[43,5.68]]},
      {"item": "NPAM", "region": "PA", "rating": 5, "p": [[65,5.15],[46,4.85],[33,5.30],[71,4.72],[57,5.06],[38,4.95],[62,5.23],[27,4.81],[54,5.00],[74,5.27],[41,4.89],[68,5.14],[48,4.69],[23,5.19],[59,4.93],[35,5.31],[72,5.03],[44,4.78],[30,5.10],[66,4.86],[53,5.24],[25,4.97],[61,4.73],[39,5.16],[75,4.88],[47,5.29],[33,5.01],[69,4.83],[56,5.21],[28,4.70],[61,5.08],[34,4.94],[72,5.18],[47,4.77],[28,5.33],[55,4.91],[40,5.05],[66,5.26],[25,4.80],[51,5.12]]},
      {"item": "NPAM", "region": "PA", "rating": 4, "p": [[61,4.26],[34,3.99],[72,3.75],[47,4.10],[28,4.33],[55,3.89],[40,4.21],[66,3.71],[25,4.03],[51,3.84],[75,4.16],[37,4.30],[44,3.92],[69,3.77],[30,4.07],[58,4.22],[23,3.88],[63,4.00],[48,4.29],[35,3.70],[77,3.96],[42,4.11],[53,3.79],[27,4.18],[70,3.87],[60,4.27],[32,3.93],[46,4.04],[74,3.74],[38,4.32],[56,3.98],[24,4.13],[65,3.82],[50,4.25],[29,3.68],[68,4.02],[43,3.90],[59,4.20],[36,3.76],[71,4.09],[26,4.15],[52,3.85],[45,4.30],[67,3.72],[31,4.06],[57,3.95],[76,4.23],[39,3.81],[62,4.00],[49,4.27],[33,3.89],[73,4.14],[54,3.69],[41,4.19],[64,3.93],[27,4.31],[48,4.03],[70,3.78],[35,4.10],[58,3.86],[44,4.24],[25,3.97],[66,3.73],[52,4.16],[30,3.88],[75,4.29],[39,4.01],[61,3.83],[47,4.21],[23,3.70],[69,4.08],[56,3.94],[34,4.18],[72,3.77],[42,4.33],[28,3.91],[64,4.05],[50,4.26],[37,3.80],[77,4.12],[55,3.99],[31,4.22],[67,3.75],[45,4.04],[26,3.87],[60,4.28],[40,3.72],[73,3.95],[53,4.17],[32,3.84],[63,4.09],[49,4.30],[24,3.79],[70,4.02],[43,4.25],[58,3.90],[36,3.68],[76,4.13],[51,3.82],[29,4.20]]},
      {"item": "NPAM", "region": "PA", "rating": 3, "p": [[61,2.98],[34,3.13],[72,2.82],[47,3.25],[28,2.68],[55,3.02],[40,2.90],[66,3.20],[25,2.76],[51,3.09],[75,3.15],[37,2.85],[44,3.30],[69,2.72],[30,3.06],[58,2.95],[23,3.23],[63,2.81],[48,3.00],[35,3.27],[77,2.89],[42,3.14],[53,2.69],[27,3.19],[70,2.93],[60,3.31],[32,3.03],[46,2.78],[74,3.10],[38,2.86],[56,3.24],[24,2.97],[65,2.73],[50,3.16],[29,2.88],[68,3.29],[43,3.01],[59,2.83],[36,3.21],[71,2.70],[26,3.08],[52,2.94],[45,3.18],[67,2.77],[31,3.33],[57,2.91],[76,3.05],[39,3.26],[62,2.80],[49,3.12],[33,2.99],[73,3.22],[54,2.75],[41,3.04],[64,2.87],[27,3.28],[48,2.72],[70,2.95],[35,3.17],[58,2.84],[44,3.09],[25,3.30],[66,2.79],[52,3.02],[30,3.25],[75,2.90],[39,2.68],[61,3.13],[47,2.82],[23,3.20],[69,2.96],[56,3.23],[34,2.76],[72,3.07],[42,2.93],[28,3.32],[64,2.71],[50,3.11],[37,2.89],[77,3.15],[55,3.12],[31,2.73],[67,3.05],[45,3.31],[26,2.91],[60,2.80],[40,3.24],[73,2.97],[53,3.17],[32,2.69],[63,3.08],[49,2.86],[24,3.28],[70,2.78],[43,3.01],[58,3.19],[36,2.94],[76,2.67],[51,3.14],[29,2.83],[65,3.26],[46,2.99],[33,2.75],[71,3.10],[57,3.33],[38,2.89],[62,3.21],[27,2.71],[54,3.03],[74,2.84]]},
      {"item": "NPAM", "region": "PA", "rating": 2, "p": [[61,2.08],[34,1.94],[72,2.18],[47,1.77],[28,2.33],[55,1.91],[40,2.05],[66,2.26],[25,1.80],[51,2.12],[75,1.99],[37,2.22],[44,1.75],[69,2.04],[30,1.87],[58,2.28],[23,1.72],[63,1.95],[48,2.17],[35,1.84],[77,2.09],[42,2.30],[53,1.79],[27,2.02],[70,2.25],[60,1.90],[32,1.68],[46,2.13],[74,1.82],[38,2.20],[56,1.96],[24,2.23],[65,1.76],[50,2.07],[29,1.93],[68,2.32],[43,1.71],[59,2.11],[36,1.89],[71,2.15],[26,2.12],[52,1.73],[45,2.05],[67,2.31],[31,1.91],[57,1.80],[76,2.24],[39,1.97],[62,2.17],[49,1.69],[33,2.08],[73,1.86],[54,2.28],[41,1.78],[64,2.01],[27,2.19],[48,1.94],[70,1.67],[35,2.14],[58,1.83],[44,2.26],[25,1.99],[66,1.75],[52,2.10],[30,2.33],[75,1.89],[39,2.21],[61,1.71],[47,2.03],[23,1.84],[69,2.16],[56,2.30],[34,1.92],[72,1.77],[42,2.07],[28,2.22],[64,1.88],[50,2.00],[37,2.29],[77,1.70],[55,1.96],[31,2.11],[67,1.79],[45,2.18],[26,1.87],[60,2.27],[40,1.93],[73,2.04],[53,1.74],[32,2.32],[63,1.98],[49,2.13],[24,1.82],[70,2.25],[43,1.68],[58,2.02],[36,1.90],[76,2.20],[51,1.76],[29,2.09]]},
      {"item": "NPAM", "region": "PA", "rating": 1, "p": [[61,1.09],[34,1.30],[72,0.79],[47,1.02],[28,1.25],[55,0.90],[40,0.68],[66,1.13],[25,0.82],[51,1.20],[75,0.96],[37,1.23],[44,0.76],[69,1.07],[30,0.93],[58,1.32],[23,0.71],[63,1.11],[48,0.89],[35,1.15],[77,1.12],[42,0.73],[53,1.05],[27,1.31],[70,0.91],[60,0.80],[32,1.24],[46,0.97],[74,1.17],[38,0.69],[56,1.08],[24,0.86],[65,1.28],[50,0.78],[29,1.01],[68,1.19],[43,0.94],[59,0.67],[36,1.14],[71,0.83],[26,1.26],[52,0.99],[45,0.75],[67,1.10],[31,1.33],[57,0.89],[76,1.21],[39,0.71],[62,1.03],[49,0.84],[33,1.16],[73,1.30],[54,0.92],[41,0.77],[64,1.07],[27,1.22],[48,0.88],[70,1.00],[35,1.29],[58,0.70],[44,0.96],[25,1.11],[66,0.79],[52,1.18],[30,0.87],[75,1.27],[39,0.93],[61,1.04],[47,0.74],[23,1.32],[69,0.98],[56,1.13],[34,0.82],[72,1.25],[42,0.68],[28,1.02],[64,0.90],[50,1.20],[37,0.76],[77,1.09],[55,1.15],[31,0.85],[67,1.30],[45,0.72],[26,1.06],[60,0.95],[40,1.23],[73,0.81],[53,1.00],[32,1.27],[63,0.89],[49,1.14],[24,0.69],[70,1.19],[43,0.93],[58,1.31],[36,1.03],[76,0.78],[51,1.10],[29,0.86],[65,1.24],[46,0.97],[33,0.73],[71,1.16],[57,0.88],[38,1.29],[62,1.01],[27,0.83],[54,1.21],[74,0.70],[41,1.08],[68,0.94],[48,1.18],[23,0.77],[59,1.33],[35,0.91],[72,1.05],[44,1.26],[30,0.80],[66,1.12],[53,0.99],[25,1.22],[61,0.75],[39,1.04],[75,0.87],[47,1.28],[33,0.72],[69,0.95],[56,1.17],[28,0.84],[49,1.12],[62,0.73],[39,1.05],[76,1.31],[57,0.91],[31,0.80],[67,1.24],[45,0.97],[52,1.17],[26,0.69],[58,1.24],[35,0.97],[70,0.73],[48,1.16],[27,0.88],[64,1.29],[41,1.01],[54,0.83],[73,1.21],[33,0.70],[23,1.09],[47,1.30],[61,0.79],[39,1.02],[75,1.25],[30,0.90],[52,0.68],[66,1.13],[25,0.82],[44,1.20],[77,1.26],[37,0.99],[50,0.75],[64,1.10],[28,1.33],[42,0.89],[72,1.21],[34,0.71],[56,1.03],[69,0.84],[32,0.98],[53,1.13],[73,0.82],[40,1.25],[60,0.68],[26,1.02],[45,0.90],[67,1.20],[31,0.76],[55,1.09],[61,1.16],[34,1.30],[72,0.92],[47,0.77],[28,1.07],[55,1.22],[40,0.88],[66,1.00],[25,1.29],[51,0.70],[75,0.96],[37,1.11],[44,0.79],[69,1.18],[30,0.87],[58,1.27],[23,0.93],[63,1.04],[48,0.74],[35,1.32],[77,0.98],[42,1.13],[53,0.82],[27,1.25],[70,0.68],[60,1.02],[32,0.90],[46,1.20],[74,0.76],[38,1.09],[56,1.15],[24,0.85],[65,1.30],[50,0.72],[29,1.06],[68,0.95],[43,1.23],[59,0.81],[36,1.00],[71,1.27],[26,0.89],[52,1.14],[45,0.69],[67,1.19],[31,0.93],[57,1.31],[76,1.03],[39,0.78],[62,1.10],[49,0.86],[33,1.24],[73,0.97],[54,0.73],[41,1.16],[64,0.88],[27,1.29],[48,1.01],[70,0.83],[35,1.21],[58,0.70]]},
      {"item": "NPAM-Nat", "region": "non-Midland", "rating": 7, "p": [[-64,6.97],[-39,6.88],[-29,6.78],[-56,6.69],[-54,6.71],[-42,6.75]]},
      {"item": "NPAM-Nat", "region": "non-Midland", "rating": 6, "p": [[-63,6.26],[-49,5.99],[-24,5.75],[-70,6.10],[-43,6.33],[-58,5.89],[-36,6.21],[-76,5.71],[-51,6.03],[-29,5.84],[-65,6.09],[-46,6.30],[-33,5.79],[-71,6.02],[-57,6.25],[-38,5.90],[-62,5.68],[-27,6.13],[-54,5.82],[-74,6.20],[-41,5.98],[-68,6.13]]},
      {"item": "NPAM-Nat", "region": "non-Midland", "rating": 5, "p": [[-53,5.08],[-25,4.86],[-61,5.28],[-39,4.78],[-75,5.01],[-47,5.19],[-33,4.94],[-69,4.67],[-56,5.14],[-28,4.83],[-61,4.99],[-34,5.22],[-72,4.75],[-47,5.04],[-28,4.87],[-55,5.28],[-40,4.72],[-66,4.95],[-25,5.17],[-51,4.84],[-75,5.24],[-37,4.97],[-44,4.73],[-69,5.16],[-30,4.88],[-58,5.29],[-23,5.01],[-63,4.83],[-48,5.21],[-35,4.70],[-77,5.11],[-42,4.92],[-53,5.31],[-27,4.81],[-70,5.06]]},
      {"item": "NPAM-Nat", "region": "non-Midland", "rating": 4, "p": [[-56,4.08],[-24,3.94],[-65,4.18],[-50,3.77],[-29,4.33],[-68,3.91],[-43,4.05],[-59,4.26],[-36,3.80],[-71,4.12],[-26,3.99],[-52,4.22],[-45,3.75],[-67,4.04],[-31,3.87],[-57,4.28],[-76,3.72],[-39,3.95],[-62,4.17],[-49,3.84],[-33,4.09],[-73,4.30],[-54,3.79],[-41,4.02],[-64,4.25],[-27,3.90],[-48,3.68],[-70,4.13],[-35,3.82],[-58,4.20],[-44,3.96],[-25,4.23],[-66,3.76],[-52,4.07],[-30,3.93],[-75,4.32],[-39,3.71],[-61,4.11],[-47,3.89],[-23,4.15],[-69,4.12],[-56,3.73],[-34,4.05],[-72,4.31],[-42,3.91],[-28,3.80],[-64,4.24],[-50,3.97],[-37,4.17],[-77,3.69]]},
      {"item": "NPAM-Nat", "region": "non-Midland", "rating": 3, "p": [[-61,3.08],[-34,2.94],[-72,3.18],[-47,2.77],[-28,3.33],[-55,2.91],[-40,3.05],[-66,3.26],[-25,2.80],[-51,3.12],[-75,2.99],[-37,3.22],[-44,2.75],[-69,3.04],[-30,2.87],[-58,3.28],[-23,2.72],[-63,2.95],[-48,3.17],[-35,2.84],[-77,3.09],[-42,3.30],[-53,2.79],[-27,3.02],[-70,3.25],[-60,2.90],[-32,2.68],[-46,3.13],[-74,2.82],[-38,3.20],[-56,2.96],[-24,3.23],[-65,2.76],[-50,3.07],[-29,2.93],[-68,3.32],[-43,2.71],[-59,3.11],[-36,2.89],[-71,3.15],[-26,3.12],[-52,2.73],[-45,3.05],[-67,3.31],[-31,2.91],[-57,2.80],[-76,3.24],[-39,2.97],[-62,3.17],[-49,2.69],[-33,3.08],[-73,2.86],[-54,3.28],[-41,2.78],[-64,3.01],[-27,3.19],[-48,2.94],[-70,2.67],[-35,3.14],[-58,2.83],[-44,3.26],[-25,2.99],[-66,2.75],[-52,3.10],[-30,3.33],[-75,2.89],[-39,3.21],[-61,2.71],[-47,3.03],[-23,2.84]]},
      {"item": "NPAM-Nat", "region": "non-Midland", "rating": 2, "p": [[-44,2.08],[-25,1.94],[-66,2.18],[-52,1.77],[-30,2.33],[-75,1.91],[-39,2.05],[-61,2.26],[-47,1.80],[-23,2.12],[-69,1.99],[-56,2.22],[-34,1.75],[-72,2.04],[-42,1.87],[-28,2.28],[-64,1.72],[-50,1.95],[-37,2.17],[-77,1.84],[-55,2.09],[-31,2.30],[-67,1.79],[-45,2.02],[-26,2.25],[-60,1.90],[-40,1.68],[-73,2.13],[-53,1.82],[-32,2.20],[-63,1.96],[-49,2.23],[-24,1.76],[-70,2.07],[-43,1.93],[-58,2.32],[-36,1.71],[-76,2.11],[-51,1.89],[-29,2.15],[-65,2.12],[-46,1.73],[-33,2.05],[-71,2.31],[-57,1.91],[-38,1.80],[-62,2.24],[-27,1.97],[-54,2.17],[-74,1.69],[-41,2.08],[-68,1.86],[-48,2.28],[-23,1.78],[-59,2.01],[-35,2.19],[-72,1.94],[-44,1.67],[-30,2.14],[-66,1.83],[-53,2.26],[-25,1.99],[-61,1.75],[-39,2.10],[-75,2.33],[-47,1.89],[-33,2.21],[-69,1.71],[-56,2.03],[-28,1.84]]},
      {"item": "NPAM-Nat", "region": "non-Midland", "rating": 1, "p": [[-61,1.08],[-34,0.86],[-72,1.28],[-47,0.78],[-28,1.01],[-55,1.19],[-40,0.94],[-66,0.67],[-25,1.14],[-51,0.83],[-75,1.26],[-37,0.99],[-44,0.75],[-69,1.10],[-30,1.33],[-58,0.89],[-23,1.21],[-63,0.71],[-48,1.03],[-35,0.84],[-77,1.16],[-42,1.30],[-53,0.92],[-27,0.77],[-70,1.07],[-60,1.22],[-32,0.88],[-46,1.00],[-74,1.29],[-38,0.70],[-56,0.96],[-24,1.11],[-65,0.79],[-50,1.18],[-29,0.87],[-68,1.27],[-43,0.93],[-59,1.04],[-36,0.74],[-71,1.32],[-26,0.98],[-52,1.13],[-45,0.82],[-67,1.25],[-31,0.68],[-57,1.02],[-76,0.90],[-39,1.20],[-62,0.76],[-49,1.09],[-33,1.15],[-73,0.85],[-54,1.30],[-41,0.72],[-64,1.06],[-27,0.95],[-48,1.23],[-70,0.81],[-35,1.00],[-58,1.27],[-44,0.89],[-25,1.14],[-66,0.69],[-52,1.19],[-30,0.93],[-75,1.31],[-39,1.03],[-61,0.78],[-47,1.10],[-23,0.86],[-69,1.24],[-56,0.97],[-34,0.73],[-72,1.16],[-42,0.88],[-28,1.29],[-64,1.01],[-50,0.83],[-37,1.21],[-77,0.70],[-55,1.08],[-31,0.94],[-67,1.18],[-45,0.77],[-26,1.33],[-60,0.91],[-40,1.05],[-73,1.26],[-53,0.80],[-32,1.12]]},
      {"item": "NPAM-Nat", "region": "PA", "rating": 7, "p": [[55,7.08],[31,6.94],[67,7.18],[45,6.77],[26,7.33],[60,6.91],[40,7.05],[73,7.26],[53,6.80],[32,7.12],[63,6.99],[49,7.22],[24,6.75],[70,7.04],[43,6.87],[58,7.28],[36,6.72],[76,6.95],[51,7.17],[29,6.84],[65,7.09],[46,7.30],[33,6.79],[71,7.02],[57,7.25],[38,6.90],[62,6.68],[27,7.13],[54,6.82],[74,7.20],[41,6.96],[68,7.23],[48,6.76],[23,7.07],[59,6.93],[35,7.32],[72,6.71],[44,7.11],[30,6.89],[66,7.15],[53,7.12],[25,6.73],[61,7.05],[39,7.31],[75,6.91],[47,6.80],[33,7.24],[69,6.97],[56,7.17],[28,6.69]]},
      {"item": "NPAM-Nat", "region": "PA", "rating": 6, "p": [[61,6.16],[34,6.30],[72,5.92],[47,5.77],[28,6.07],[55,6.22],[40,5.88],[66,6.00],[25,6.29],[51,5.70],[75,5.96],[37,6.11],[44,5.79],[69,6.18],[30,5.87],[58,6.27],[23,5.93],[63,6.04],[48,5.74],[35,6.32],[77,5.98],[42,6.13],[53,5.82],[27,6.25],[70,5.68],[60,6.02],[32,5.90],[46,6.20],[74,5.76],[38,6.09],[56,6.15],[24,5.85],[65,6.30],[50,5.72],[29,6.06],[68,5.95],[43,6.23],[59,5.81],[36,6.00],[71,6.27]]},
      {"item": "NPAM-Nat", "region": "PA", "rating": 5, "p": [[26,4.96],[52,5.23],[45,4.76],[67,5.07],[31,4.93],[57,5.32],[76,4.71],[39,5.11],[62,4.89],[49,5.15],[33,5.12],[73,4.73],[54,5.05],[41,5.31],[64,4.91],[27,4.80],[48,5.24],[70,4.97],[35,5.17],[58,4.69],[44,5.08],[25,4.86],[66,5.28],[52,4.78],[30,5.01],[75,5.19],[39,4.94],[61,4.67],[47,5.14],[23,4.83],[69,5.26],[56,4.99],[34,4.75],[72,5.10],[42,5.33],[28,4.89],[64,5.21],[50,4.71],[37,5.03],[77,4.84],[55,5.16],[31,5.30],[67,4.92],[45,4.77],[26,5.07]]},
      {"item": "NPAM-Nat", "region": "PA", "rating": 4, "p": [[33,4.26],[73,3.99],[54,3.75],[41,4.10],[64,4.33],[27,3.89],[48,4.21],[70,3.71],[35,4.03],[58,3.84],[44,4.16],[25,4.30],[66,3.92],[52,3.77],[30,4.07],[75,4.22],[39,3.88],[61,4.00],[47,4.29],[23,3.70],[69,3.96],[56,4.11],[34,3.79],[72,4.18],[42,3.87],[28,4.27],[64,3.93],[50,4.04],[37,3.74],[77,4.32],[55,3.98],[31,4.13],[67,3.82],[45,4.25],[26,3.68],[60,4.02],[40,3.90],[73,4.20],[53,3.76],[32,4.09],[63,4.15],[49,3.85],[24,4.30],[70,3.72],[43,4.06],[58,3.95],[36,4.23],[76,3.81],[51,4.00],[29,4.27],[65,3.89],[46,4.14],[33,3.69],[71,4.19],[57,3.93]]},
      {"item": "NPAM-Nat", "region": "PA", "rating": 3, "p": [[44,2.96],[25,3.23],[66,2.76],[52,3.07],[30,2.93],[75,3.32],[39,2.71],[61,3.11],[47,2.89],[23,3.15],[69,3.12],[56,2.73],[34,3.05],[72,3.31],[42,2.91],[28,2.80],[64,3.24],[50,2.97],[37,3.17],[77,2.69],[55,3.08],[31,2.86],[67,3.28],[45,2.78],[26,3.01],[60,3.19],[40,2.94],[73,2.67],[53,3.14],[32,2.83],[63,3.26],[49,2.99],[24,2.75],[70,3.10],[43,3.33],[58,2.89],[36,3.21],[76,2.71],[51,3.03],[29,2.84],[65,3.16],[46,3.30],[33,2.92],[71,2.77],[57,3.07],[38,3.22],[62,2.88],[27,3.00],[54,3.29],[74,2.70]]},
      {"item": "NPAM-Nat", "region": "PA", "rating": 2, "p": [[63,2.09],[49,2.30],[24,1.79],[70,2.02],[43,2.25],[58,1.90],[36,1.68],[76,2.13],[51,1.82],[29,2.20],[65,1.96],[46,2.23],[33,1.76],[71,2.07],[57,1.93],[38,2.32],[62,1.71],[27,2.11],[54,1.89],[74,2.15],[41,2.12],[68,1.73],[48,2.05],[23,2.31],[59,1.91],[35,1.80],[72,2.24],[44,1.97],[30,2.17],[66,1.69],[53,2.08],[25,1.86],[61,2.28],[39,1.78],[75,2.01],[47,2.19],[33,1.94],[69,1.67],[56,2.14],[28,1.83]]},
      {"item": "NPAM-Nat", "region": "PA", "rating": 1, "p": [[75,1.12],[37,0.73],[44,1.05],[69,1.31],[30,0.91],[58,0.80],[23,1.24],[63,0.97],[48,1.17],[35,0.69],[77,1.08],[42,0.86],[53,1.28],[27,0.78],[70,1.01],[60,1.19],[32,0.94],[46,0.67],[74,1.14],[38,0.83],[56,1.26],[24,0.99],[65,0.75],[50,1.10],[29,1.33],[68,0.89],[43,1.21],[59,0.71],[36,1.03],[71,0.84],[26,1.16],[52,1.30],[45,0.92],[67,0.77],[31,1.07],[57,1.22],[76,0.88],[39,1.00],[62,1.29],[49,0.70],[33,0.96],[73,1.11],[54,0.79],[41,1.18],[64,0.87],[27,1.27],[48,0.93],[70,1.04],[35,0.74],[58,1.32],[44,0.98],[25,1.13],[66,0.82],[52,1.25],[30,0.68],[75,1.02],[39,0.90],[61,1.20],[47,0.76],[23,1.09],[69,1.15],[56,0.85],[34,1.30],[72,0.72],[42,1.06],[28,0.95],[64,1.23],[50,0.81],[37,1.00],[77,1.27],[55,0.89],[31,1.14],[67,0.69],[45,1.19],[26,0.93],[60,1.31],[40,1.03],[73,0.78],[53,1.10],[32,0.86],[63,1.24],[49,0.97],[24,0.73],[70,1.16],[43,0.88],[58,1.29],[36,1.01],[76,0.83],[51,1.21],[29,0.70],[65,1.08],[46,0.94],[33,1.18],[71,0.77],[57,1.33],[38,0.91],[62,1.05],[27,1.26],[54,0.80],[74,1.12]]}
    ]
  },
  "encoding": {
    "x": {
      "field": "item",
      "type": "nominal",
      "title": "Item Type",
      "scale": {"domain": ["NPI", "NPAM", "NPAM-Nat"], "paddingInner": 0.25, "paddingOuter": 0.225},
      "axis": {"labelAngle": 0, "labelPadding": 12, "titlePadding": 16, "grid": true, "bandPosition": 0.5}
    }
  },
  "layer": [
    {
      "data": {"name": "boxes"},
      "mark": {"type": "rule", "strokeWidth": 6},
      "encoding": {
        "xOffset": {"field": "region", "type": "nominal", "scale": {"domain": ["non-Midland", "PA"], "paddingInner": 0.1, "paddingOuter": 0.05}},
        "y": {
          "field": "lo",
          "type": "quantitative",
          "scale": {"domain": [0.33, 7.67], "nice": false, "zero": false},
          "axis": {"orient": "right", "values": [0.5, 1.5, 2.5, 3.5, 4.5, 5.5, 6.5, 7.5], "grid": true, "gridWidth": 3, "labels": false, "ticks": false, "domain": false, "title": null}
        },
        "y2": {"field": "hi"},
        "color": {
          "field": "region",
          "type": "nominal",
          "title": "Region",
          "scale": {"domain": ["non-Midland", "PA"], "range": ["#FF2200", "#0028FF"]},
          "legend": {
            "orient": "none", "legendX": 2836, "legendY": 663,
            "symbolType": "M-1,-0.69H1V0.69H-1Z M-0.87,-0.56V0.56H0.87V-0.56Z M-0.87,-0.065H0.87V0.065H-0.87Z M-0.065,-1H0.065V-0.69H-0.065Z M-0.065,0.69H0.065V1H-0.065Z",
            "symbolSize": 9025, "symbolStrokeWidth": 1,
            "labelOffset": 48, "rowPadding": 16, "titlePadding": 40, "labelLimit": 0, "titleLimit": 0
          }
        }
      }
    },
    {
      "data": {"name": "boxes"},
      "mark": {"type": "bar", "fill": "white", "strokeWidth": 6.5},
      "encoding": {
        "xOffset": {"field": "region", "type": "nominal", "scale": {"domain": ["non-Midland", "PA"], "paddingInner": 0.1, "paddingOuter": 0.05}},
        "y": {"field": "q1", "type": "quantitative", "scale": {"domain": [0.33, 7.67], "nice": false, "zero": false}, "axis": null},
        "y2": {"field": "q3"},
        "stroke": {"field": "region", "type": "nominal", "scale": {"domain": ["non-Midland", "PA"], "range": ["#FF2200", "#0028FF"]}, "legend": null}
      }
    },
    {
      "data": {"name": "boxes"},
      "mark": {"type": "tick", "size": 287, "thickness": 13, "opacity": 1},
      "encoding": {
        "xOffset": {"field": "region", "type": "nominal", "scale": {"domain": ["non-Midland", "PA"], "paddingInner": 0.1, "paddingOuter": 0.05}},
        "y": {"field": "med", "type": "quantitative", "scale": {"domain": [0.33, 7.67], "nice": false, "zero": false}, "axis": null},
        "fill": {"field": "region", "type": "nominal", "scale": {"domain": ["non-Midland", "PA"], "range": ["#FF2200", "#0028FF"]}, "legend": null}
      }
    },
    {
      "data": {"name": "points"},
      "transform": [{"flatten": ["p"]}],
      "mark": {"type": "point", "filled": true, "size": 240, "opacity": 1, "fillOpacity": 0.4, "strokeOpacity": 0.45, "strokeWidth": 2.5},
      "encoding": {
        "xOffset": {"field": "p[0]", "type": "quantitative", "scale": {"domain": [-100, 100], "nice": false, "zero": false}},
        "y": {
          "field": "p[1]",
          "type": "quantitative",
          "title": "Likert Rating",
          "scale": {"domain": [0.33, 7.67], "nice": false, "zero": false},
          "axis": {"values": [1, 2, 3, 4, 5, 6, 7], "grid": true, "labelPadding": 12, "titlePadding": 16}
        },
        "fill": {"field": "region", "type": "nominal", "scale": {"domain": ["non-Midland", "PA"], "range": ["#FF2200", "#0028FF"]}, "legend": null},
        "stroke": {"field": "region", "type": "nominal", "scale": {"domain": ["non-Midland", "PA"], "range": ["#FF2200", "#0028FF"]}, "legend": null}
      }
    }
  ],
  "resolve": {"scale": {"xOffset": "independent"}, "axis": {"y": "independent"}},
  "config": {
    "font": "Liberation Sans",
    "view": {"stroke": "#333333", "strokeWidth": 4},
    "axis": {
      "domain": false,
      "labelFontSize": 57.6,
      "labelColor": "#4D4D4D",
      "labelLimit": 1000,
      "titleFontSize": 72,
      "titleColor": "#000000",
      "titleFontWeight": "normal",
      "tickColor": "#333333",
      "tickWidth": 5,
      "tickSize": 18,
      "gridColor": "#EBEBEB",
      "gridWidth": 5.5
    },
    "legend": {
      "titleFontSize": 72,
      "titleFontWeight": "normal",
      "titleColor": "#000000",
      "labelFontSize": 57.6,
      "labelColor": "#000000"
    }
  }
}
